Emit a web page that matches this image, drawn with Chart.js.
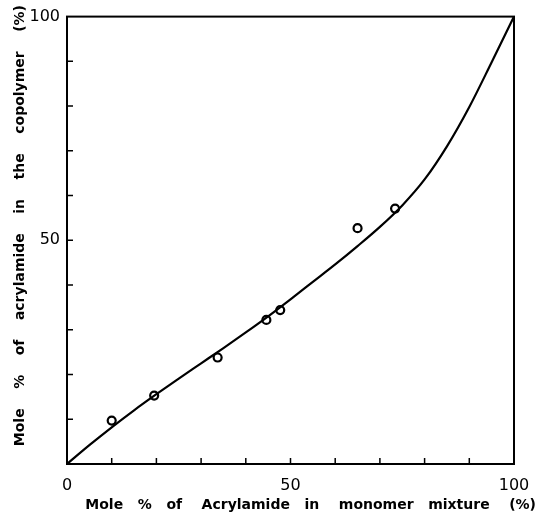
<!DOCTYPE html>
<html>
<head>
<meta charset="utf-8">
<script src="https://cdn.jsdelivr.net/npm/chart.js@4/dist/chart.umd.min.js"></script>
<style>
html,body{margin:0;padding:0;background:#fff;}
#wrap{width:536px;height:525px;}
</style>
</head>
<body>
<div id="wrap"><canvas id="c" width="536" height="525"></canvas></div>
<script>
// Fitted curve
const curveX = [0,5,10,15,20,25,30,35,40,45,50,55,60,65,70,75,80,85,90,95,100];
const curveY = [0,4.2,8.2,12.0,15.6,19.1,22.5,25.9,29.4,33.0,36.8,40.7,44.6,48.7,53.0,57.8,63.6,71.0,79.8,89.8,100];
// Experimental points
const obsX = [10.0,19.5,33.7,44.6,47.7,65.0,73.4];
const obsY = [9.7,15.3,23.8,32.2,34.4,52.7,57.1];
// Axis labels
const xMajor = [0,50,100];
const yMajor = [50,100];
const xTitle = 'Mole   %   of    Acrylamide   in    monomer   mixture    (%)';
const yTitle = 'Mole    %    of    acrylamide    in    the    copolymer    (%)';

const curve = curveX.map((x,i)=>({x:x,y:curveY[i]}));
const obs = obsX.map((x,i)=>({x:x,y:obsY[i]}));

const framePlugin = {
  id:'frame',
  afterDatasetsDraw(chart){
    const ctx = chart.ctx, a = chart.chartArea;
    const xs = chart.scales.x, ys = chart.scales.y;
    ctx.save();
    ctx.strokeStyle = '#000';
    ctx.lineWidth = 2;
    ctx.strokeRect(a.left, a.top, a.right - a.left, a.bottom - a.top);
    ctx.lineWidth = 1.5;
    ctx.beginPath();
    for (let v = 10; v < 100; v += 10) {
      const px = xs.getPixelForValue(v);
      ctx.moveTo(px, a.bottom); ctx.lineTo(px, a.bottom - 6);
      const py = ys.getPixelForValue(v);
      ctx.moveTo(a.left, py); ctx.lineTo(a.left + 6, py);
    }
    ctx.stroke();
    ctx.restore();
  }
};

new Chart(document.getElementById('c'), {
  type: 'scatter',
  data: {
    datasets: [
      {
        data: curve, showLine: true, borderColor: '#000', borderWidth: 2.2,
        pointRadius: 0, cubicInterpolationMode: 'monotone', fill: false
      },
      {
        data: obs, showLine: false, pointRadius: 4, pointBorderWidth: 2.2,
        pointBorderColor: '#000', pointBackgroundColor: 'rgba(0,0,0,0)'
      }
    ]
  },
  options: {
    responsive: false,
    animation: false,
    layout: { padding: { top: 5, right: 0, left: 0, bottom: 0 } },
    plugins: {
      legend: { display: false },
      tooltip: { enabled: false },
      title: {
        display: true, text: xTitle, position: 'bottom', align: 'end',
        color: '#000', font: { family: 'DejaVu Sans', size: 14, weight: 'bold' },
        padding: { top: 4, bottom: 11.6 }
      },
      subtitle: {
        display: true, text: yTitle, position: 'left', align: 'end',
        color: '#000', font: { family: 'DejaVu Sans', size: 14, weight: 'bold' },
        padding: { top: 12, bottom: 0 }
      }
    },
    scales: {
      x: {
        type: 'linear', min: 0, max: 100,
        grid: { display: false, drawTicks: false },
        border: { display: false },
        ticks: {
          stepSize: 10, autoSkip: false, maxRotation: 0, padding: 12, color: '#000',
          font: { family: 'DejaVu Sans', size: 16 },
          callback: v => xMajor.includes(v) ? String(v) : ''
        },
        afterFit: s => { s.height = 28.6; s.paddingRight = 0; s.paddingLeft = 0; }
      },
      xTop: {
        type: 'linear', position: 'top', min: 0, max: 100, display: true,
        grid: { display: false, drawTicks: false }, border: { display: false },
        ticks: { display: false },
        afterFit: s => { s.height = 10; }
      },
      y: {
        type: 'linear', min: 0, max: 100,
        grid: { display: false, drawTicks: false },
        border: { display: false },
        ticks: {
          stepSize: 10, autoSkip: false, padding: 7, color: '#000',
          font: { family: 'DejaVu Sans', size: 16 },
          callback: v => yMajor.includes(v) ? String(v) : ''
        },
        afterFit: s => { s.width = 38.2; }
      },
      yRight: {
        type: 'linear', position: 'right', min: 0, max: 100, display: true,
        grid: { display: false, drawTicks: false }, border: { display: false },
        ticks: { display: false },
        afterFit: s => { s.width = 22; }
      }
    }
  },
  plugins: [framePlugin]
});
</script>
</body>
</html>
